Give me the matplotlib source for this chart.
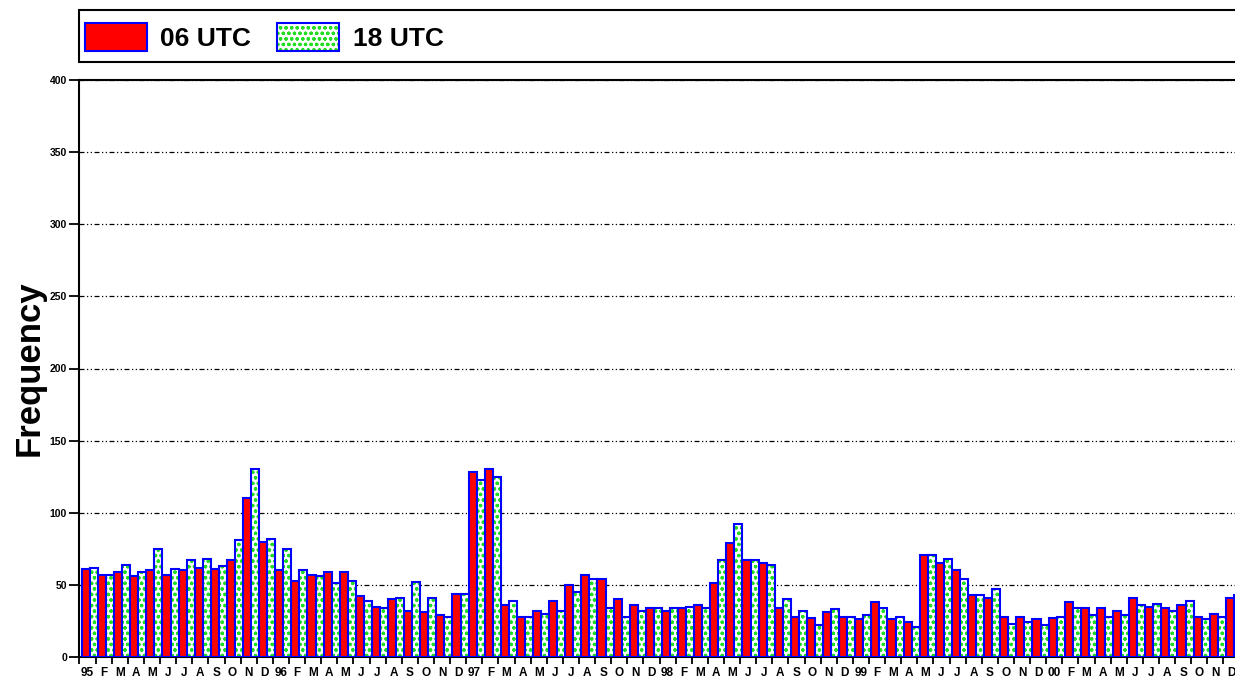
import numpy as np
import matplotlib
matplotlib.use("Agg")
import matplotlib.pyplot as plt
import matplotlib.patches as mpatches

plt.rcParams['font.family'] = ['Liberation Sans', 'DejaVu Sans']
plt.rcParams['hatch.linewidth'] = 0.9

# monthly counts Jan 1995 .. Dec 2000
utc06 = [61, 57, 59, 56, 60, 57, 60, 62, 61, 67, 110, 80,
         60, 53, 57, 59, 59, 42, 35, 40, 32, 31, 29, 44,
         128, 130, 36, 28, 32, 39, 50, 57, 54, 40, 36, 34,
         32, 34, 36, 51, 79, 67, 65, 34, 28, 27, 31, 28,
         26, 38, 26, 24, 71, 65, 60, 43, 41, 28, 28, 26,
         27, 38, 34, 34, 32, 41, 35, 34, 36, 28, 30, 41]
utc18 = [62, 57, 64, 59, 75, 61, 67, 68, 63, 81, 130, 82,
         75, 60, 56, 51, 53, 39, 34, 41, 52, 41, 28, 44,
         123, 125, 39, 28, 30, 32, 45, 54, 34, 28, 32, 34,
         34, 35, 34, 67, 92, 67, 64, 40, 32, 22, 33, 28,
         29, 34, 28, 21, 71, 68, 54, 43, 47, 23, 24, 22,
         28, 34, 29, 28, 29, 36, 37, 32, 39, 26, 28, 43]
months = ["J", "F", "M", "A", "M", "J", "J", "A", "S", "O", "N", "D"]
years = ["95", "96", "97", "98", "99", "00"]
labels = []
for y in years:
    labels += [y] + months[1:]

W, H = 1235, 680
fig = plt.figure(figsize=(W / 100, H / 100), dpi=100)
ax = fig.add_axes([79.5 / W, 23 / H, 1160 / W, 577 / H])

x = np.arange(len(utc06))
bw = 0.5
off = 0.15
green = "#22dd22"
ax.bar(x + off + bw / 2, utc06, width=bw, color="red", edgecolor="blue",
       linewidth=1.5, zorder=3)
ax.bar(x + off + 1.5 * bw, utc18, width=bw, color="white", edgecolor=green,
       hatch="ooo", linewidth=0, zorder=3)
ax.bar(x + off + 1.5 * bw, utc18, width=bw, color="none", edgecolor="blue",
       linewidth=1.5, zorder=4)

ax.set_xlim(0, 72)
ax.set_ylim(0, 400)
ax.set_yticks(np.arange(0, 401, 50))
ax.set_xticks(np.arange(0, 73))
ax.set_xticklabels([])
ax.set_xticks(x + 0.5, minor=True)
ax.set_xticklabels(labels, minor=True, fontsize=8.5, fontweight="bold")
ax.tick_params(axis="x", which="major", length=5, width=1.3, direction="out")
ax.tick_params(axis="x", which="minor", length=0, pad=7)
ax.tick_params(axis="y", length=7, width=1.3, direction="out", pad=2,
               labelsize=7.5)
for t in ax.get_yticklabels():
    t.set_fontweight("bold")

ax.yaxis.grid(True, color="black", linewidth=0.9,
              linestyle=(0, (4, 2, 1, 2, 1, 2)))
ax.set_axisbelow(True)
ax.spines["right"].set_visible(False)
for s in ["left", "top", "bottom"]:
    ax.spines[s].set_linewidth(1.5)

ax.set_ylabel("Frequency", fontsize=25, fontweight="bold")
ax.yaxis.set_label_coords((46 - 79.5) / 1160, 0.5)

# legend box across the top
fig.patches.append(mpatches.Rectangle((79.5 / W, (H - 62) / H), 1200 / W, 52 / H,
                                      transform=fig.transFigure, facecolor="white",
                                      edgecolor="black", linewidth=1.5))
h06 = mpatches.Patch(facecolor="red", edgecolor="blue", linewidth=1.5)
h18a = mpatches.Patch(facecolor="white", edgecolor=green, hatch="ooo", linewidth=0)
h18b = mpatches.Patch(facecolor="none", edgecolor="blue", linewidth=1.5)
fig.legend([h06, (h18a, h18b)], ["06 UTC", "18 UTC"], loc="center left",
           bbox_to_anchor=(85 / W, (H - 37) / H), frameon=False, ncol=2,
           prop={"weight": "bold", "size": 19}, handlelength=2.35,
           handleheight=1.3, handletextpad=0.5, columnspacing=1.0,
           borderpad=0, borderaxespad=0)

fig.savefig("out.png", dpi=100)
